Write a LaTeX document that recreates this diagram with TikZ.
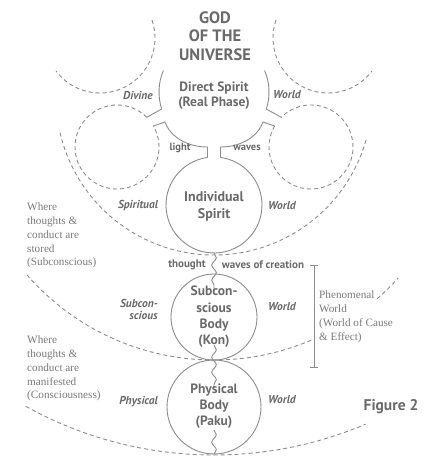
\documentclass[tikz,border=0pt]{standalone}
\usepackage{fontspec}
\setmainfont{Liberation Serif}
\newfontfamily\sansf{PT Sans}
\usetikzlibrary{calc,decorations.pathmorphing}
\definecolor{ln}{HTML}{8C8C8C}
\definecolor{tx}{HTML}{6A6A6A}
\definecolor{sx}{HTML}{7A7A7A}
\begin{document}
\begin{tikzpicture}[x=1pt,y=1pt,
  solidln/.style={draw=ln, line width=0.9pt},
  dashln/.style={draw=ln, line width=0.9pt, dash pattern=on 4pt off 3pt},
  boldlbl/.style={text=tx, font=\sansf\bfseries\fontsize{13.5}{15}\selectfont, align=center, inner sep=0pt},
  itlbl/.style={text=tx, font=\sansf\bfseries\itshape\fontsize{11.5}{12}\selectfont, inner sep=0pt},
  seriflbl/.style={text=sx, font=\fontsize{11.2}{13.7}\selectfont, align=left, inner sep=0pt, anchor=north west},
  wavy/.style={draw=ln, line width=0.9pt, decorate, decoration={snake, amplitude=2.3pt, segment length=15pt}}
]
\useasboundingbox (0,0) rectangle (432,-464);
% centres
\coordinate (cDS) at (214,-92);
\coordinate (cUL) at (100,-38);
\coordinate (cUR) at (328,-38);
\coordinate (cLL) at (117,-147);
\coordinate (cLR) at (311,-147);
\coordinate (cIS) at (214,-205);
\coordinate (cSB) at (214,-317);
\coordinate (cPB) at (214,-407);
\coordinate (cSW) at (214,-97);
\coordinate (cCW) at (214,-112);
\coordinate (cPW) at (214,-67);
% Direct Spirit arcs
\draw[solidln] ($(cDS)+(157:55)$) arc[start angle=157, end angle=198, radius=55];
\draw[solidln] ($(cDS)+(23:55)$) arc[start angle=23, end angle=-18, radius=55];
\draw[solidln] ($(cDS)+(198:55)$) -- ($(cLL)+(45:42)$);
\draw[solidln] ($(cDS)+(-18:55)$) -- ($(cLR)+(135:42)$);
% upper dashed circles
\draw[dashln] ($(cUL)+(19:55)$) arc[start angle=19, end angle=-143, radius=55];
\draw[dashln] ($(cUR)+(161:55)$) arc[start angle=161, end angle=323, radius=55];
% lower dashed circles
\draw[dashln] ($(cLL)+(45:42)$) arc[start angle=45, end angle=390, radius=42];
\draw[dashln] ($(cLR)+(150:42)$) arc[start angle=150, end angle=495, radius=42];
% neck
\draw[solidln] ($(cLL)+(30:42)$) -- (165,-122) .. controls (170,-136) and (186,-147) .. (207.5,-147) -- (207.5,-157.5);
\draw[solidln] ($(cLR)+(150:42)$) -- (263,-122) .. controls (258,-136) and (242,-147) .. (220.5,-147) -- (220.5,-157.5);
% Individual Spirit
\draw[solidln] ($(cIS)+(97.8:48)$) arc[start angle=97.8, end angle=442.2, radius=48];
% bodies
\draw[solidln] (cSB) circle[radius=43];
\draw[solidln] (cPB) circle[radius=47];
% world boundaries
\draw[dashln] ($(cSW)+(193:158)$) arc[start angle=193, end angle=345, radius=158];
\draw[dashln] ($(cCW)+(221:248)$) arc[start angle=221, end angle=293.8, radius=248];
\draw[dashln] ($(cCW)+(311.1:248)$) arc[start angle=311.1, end angle=318, radius=248];
\draw[dashln] ($(cPW)+(241:388)$) arc[start angle=241, end angle=293, radius=388];
% squiggles
\coordinate (q1a) at (214,-253); \coordinate (q1b) at (214,-291);
\coordinate (q2a) at (214,-345); \coordinate (q2b) at (214,-388);
\coordinate (q3a) at (214,-430); \coordinate (q3b) at (214,-455);
\draw[wavy] (q1a) -- (q1b);
\draw[wavy] (q2a) -- (q2b);
\draw[wavy] (q3a) -- (q3b);
% bracket
\coordinate (bt) at (314,-265); \coordinate (bb) at (314,-367);
\draw[solidln] (bt) -- (bb);
\draw[solidln] ([xshift=-4pt]bt) -- ([xshift=4pt]bt);
\draw[solidln] ([xshift=-4pt]bb) -- ([xshift=4pt]bb);
% texts
\node[boldlbl, font=\sansf\bfseries\fontsize{16.5}{18.5}\selectfont] (god) at (215,-36) {GOD\\OF THE\\UNIVERSE};
\node[boldlbl] (ds) at (214,-95.5) {Direct Spirit\\(Real Phase)};
\node[itlbl] (divine) at (138,-95) {Divine};
\node[itlbl] (world1) at (287,-95) {World};
\node[boldlbl, font=\sansf\bfseries\fontsize{10.5}{12}\selectfont] (light) at (180,-148) {light};
\node[boldlbl, font=\sansf\bfseries\fontsize{10.5}{12}\selectfont] (waves) at (247,-148) {waves};
\node[boldlbl, font=\sansf\bfseries\fontsize{14}{17}\selectfont] (is) at (214,-206.5) {Individual\\Spirit};
\node[itlbl] (spiritual) at (138,-206) {Spiritual};
\node[itlbl] (world2) at (282,-206) {World};
\node[seriflbl] (stored) at (27,-203) {Where\\thoughts \&\\conduct are\\stored\\(Subconscious)};
\node[boldlbl, font=\sansf\bfseries\fontsize{11}{12}\selectfont] (thought) at (187,-265) {thought};
\node[boldlbl, font=\sansf\bfseries\fontsize{11}{12}\selectfont] (woc) at (263,-265) {waves of creation};
\node[boldlbl, font=\sansf\bfseries\fontsize{13.5}{16.3}\selectfont] (sb) at (214,-317) {Subcon-\\scious\\Body\\(Kon)};
\node[itlbl, anchor=east, align=right] (subc) at (158,-309) {Subcon-\\scious};
\node[itlbl] (world3) at (282,-307) {World};
\node[seriflbl] (phen) at (319,-291) {Phenomenal\\World\\(World of Cause\\\& Effect)};
\node[seriflbl] (manif) at (27,-336) {Where\\thoughts \&\\conduct are\\manifested\\(Consciousness)};
\node[itlbl, anchor=east] (physical) at (158,-402) {Physical};
\node[boldlbl, font=\sansf\bfseries\fontsize{13.5}{16}\selectfont] (pb) at (214,-406) {Physical\\Body\\(Paku)};
\node[itlbl] (world4) at (282,-400) {World};
\node[boldlbl, font=\sansf\bfseries\fontsize{15.5}{16}\selectfont] (fig) at (391,-407) {Figure 2};
\end{tikzpicture}
\end{document}
